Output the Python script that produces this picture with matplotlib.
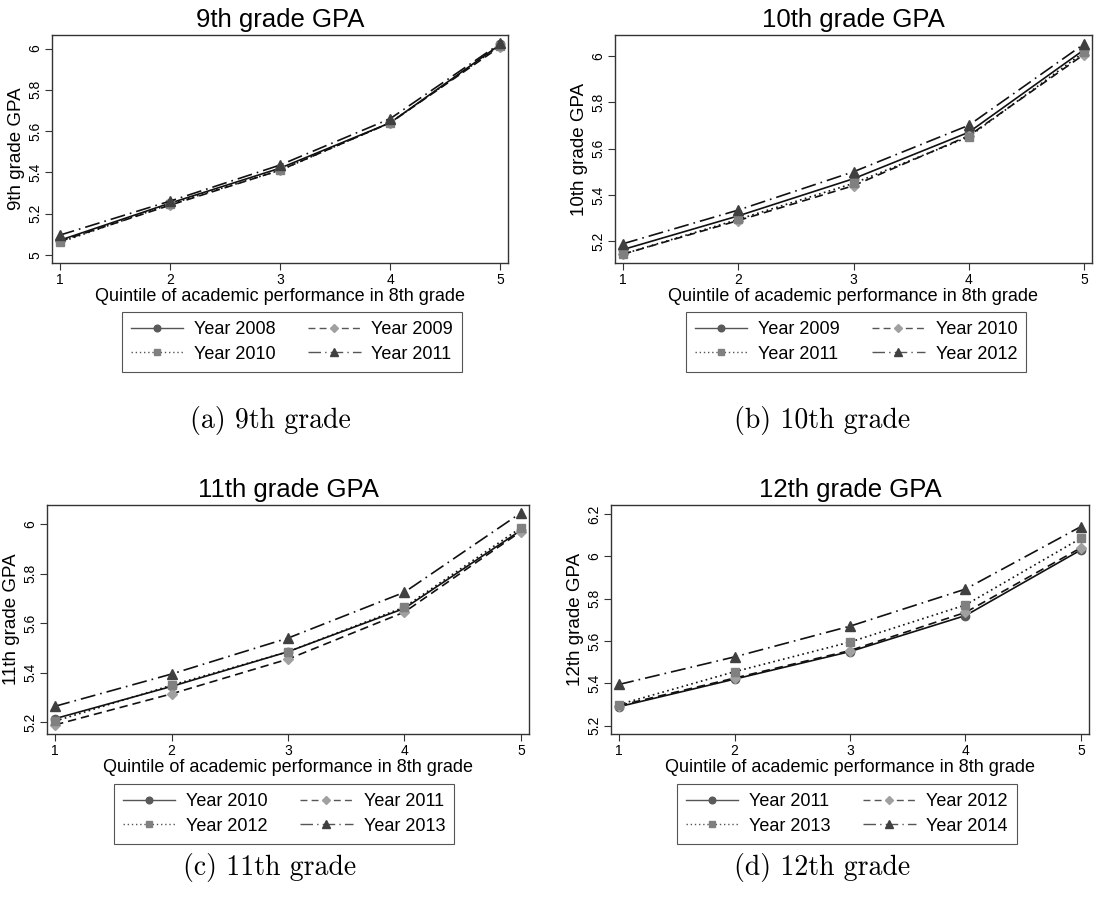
import matplotlib
matplotlib.use("Agg")
import matplotlib.pyplot as plt
from matplotlib.lines import Line2D

quintiles = [1, 2, 3, 4, 5]

titles = ["9th grade GPA", "10th grade GPA", "11th grade GPA", "12th grade GPA"]
ylabels = ["9th grade GPA", "10th grade GPA", "11th grade GPA", "12th grade GPA"]
captions = ["(a) 9th grade", "(b) 10th grade", "(c) 11th grade", "(d) 12th grade"]
xlabel = "Quintile of academic performance in 8th grade"

years_a = ["Year 2008", "Year 2009", "Year 2010", "Year 2011"]
gpa_a_s1 = [5.07, 5.25, 5.42, 5.64, 6.02]
gpa_a_s2 = [5.065, 5.24, 5.41, 5.64, 6.01]
gpa_a_s3 = [5.06, 5.245, 5.41, 5.64, 6.015]
gpa_a_s4 = [5.095, 5.26, 5.435, 5.66, 6.025]

years_b = ["Year 2009", "Year 2010", "Year 2011", "Year 2012"]
gpa_b_s1 = [5.165, 5.31, 5.47, 5.67, 6.025]
gpa_b_s2 = [5.145, 5.29, 5.44, 5.655, 6.005]
gpa_b_s3 = [5.145, 5.295, 5.45, 5.65, 6.015]
gpa_b_s4 = [5.19, 5.335, 5.50, 5.70, 6.05]

years_c = ["Year 2010", "Year 2011", "Year 2012", "Year 2013"]
gpa_c_s1 = [5.215, 5.345, 5.485, 5.66, 5.975]
gpa_c_s2 = [5.19, 5.315, 5.455, 5.645, 5.97]
gpa_c_s3 = [5.205, 5.35, 5.485, 5.665, 5.985]
gpa_c_s4 = [5.265, 5.395, 5.54, 5.725, 6.045]

years_d = ["Year 2011", "Year 2012", "Year 2013", "Year 2014"]
gpa_d_s1 = [5.29, 5.42, 5.55, 5.72, 6.03]
gpa_d_s2 = [5.295, 5.425, 5.555, 5.735, 6.04]
gpa_d_s3 = [5.30, 5.455, 5.595, 5.77, 6.085]
gpa_d_s4 = [5.395, 5.525, 5.67, 5.845, 6.14]

yticks_a = [5, 5.2, 5.4, 5.6, 5.8, 6]
yticks_b = [5.2, 5.4, 5.6, 5.8, 6]
yticks_c = [5.2, 5.4, 5.6, 5.8, 6]
yticks_d = [5.2, 5.4, 5.6, 5.8, 6, 6.2]

panels = [
    (years_a, [gpa_a_s1, gpa_a_s2, gpa_a_s3, gpa_a_s4], yticks_a, ["5", "5.2", "5.4", "5.6", "5.8", "6"]),
    (years_b, [gpa_b_s1, gpa_b_s2, gpa_b_s3, gpa_b_s4], yticks_b, ["5.2", "5.4", "5.6", "5.8", "6"]),
    (years_c, [gpa_c_s1, gpa_c_s2, gpa_c_s3, gpa_c_s4], yticks_c, ["5.2", "5.4", "5.6", "5.8", "6"]),
    (years_d, [gpa_d_s1, gpa_d_s2, gpa_d_s3, gpa_d_s4], yticks_d, ["5.2", "5.4", "5.6", "5.8", "6", "6.2"]),
]

W, H = 1094, 909
# axes boxes in pixels: left, right, top, bottom
boxes = [(52, 508, 35, 263), (615, 1092, 35, 263), (47, 529, 505, 734), (611, 1089, 505, 734)]
ylims = [(4.96, 6.066), (5.107, 6.089), (5.153, 6.077), (5.161, 6.242)]
legend_centers = [(292, 342), (856, 342), (284, 814), (847, 814)]
caption_centers = [(270, 420), (822, 420), (270, 868), (822, 868)]

styles = [
    dict(linestyle="-", marker="o", mfc="#5a5a5a", mec="#5a5a5a", ms=6),
    dict(linestyle=(0, (5, 3)), marker="D", mfc="#a0a0a0", mec="#a0a0a0", ms=5.5),
    dict(linestyle=(0, (1, 2)), marker="s", mfc="#808080", mec="#808080", ms=6),
    dict(linestyle=(0, (9, 3, 1, 3)), marker="^", mfc="#404040", mec="#404040", ms=7),
]

sans = ["Liberation Sans", "DejaVu Sans"]
plt.rcParams["font.family"] = sans

fig = plt.figure(figsize=(W / 100, H / 100), dpi=100)
fig.patch.set_facecolor("white")

for i, (years, series, yt, ytl) in enumerate(panels):
    l, r, t, b = boxes[i]
    ax = fig.add_axes([l / W, 1 - b / H, (r - l) / W, (b - t) / H])
    for j, vals in enumerate(series):
        st = styles[j]
        ax.plot(quintiles, vals, color="#111111", lw=1.2, linestyle=st["linestyle"],
                marker=st["marker"], mfc=st["mfc"], mec=st["mec"], ms=st["ms"],
                label=years[j])
    ax.set_xlim(0.93, 5.07)
    ax.set_ylim(*ylims[i])
    ax.set_xticks(quintiles)
    ax.set_xticklabels([str(q) for q in quintiles], fontsize=10)
    ax.set_yticks(yt)
    ax.set_yticklabels(ytl, fontsize=10, rotation=90, va="center")
    ax.tick_params(direction="out", length=5, width=0.8, color="#333333", pad=2)
    for sp in ax.spines.values():
        sp.set_color("#333333")
        sp.set_linewidth(1.0)
    ax.set_title(titles[i], fontsize=18.5, pad=6)
    ax.set_xlabel(xlabel, fontsize=13, labelpad=1)
    ax.set_ylabel(ylabels[i], fontsize=13.5, labelpad=2)

    # legend (row-wise order: s1, s2 / s3, s4)
    order = [0, 2, 1, 3]
    lh = []
    for k in order:
        st = styles[k]
        lh.append(Line2D([], [], color="#555555", lw=1.0, linestyle=st["linestyle"],
                         marker=st["marker"], mfc=st["mfc"], mec=st["mec"],
                         ms=st["ms"] * 0.8))
    cx, cy = legend_centers[i]
    leg = fig.legend(lh, [years[k] for k in order], ncol=2, loc="center",
                     bbox_to_anchor=(cx / W, 1 - cy / H), fontsize=13,
                     frameon=True, fancybox=False, framealpha=1,
                     edgecolor="#555555", handlelength=2.9, handletextpad=0.6,
                     columnspacing=1.8, labelspacing=0.4, borderpad=0.5,
                     borderaxespad=0)
    leg.get_frame().set_linewidth(0.8)

    ccx, ccy = caption_centers[i]
    fig.text(ccx / W, 1 - ccy / H, captions[i], fontsize=20, family="cmr10",
             ha="center", va="center")

fig.savefig("out.png", dpi=100, facecolor="white")
